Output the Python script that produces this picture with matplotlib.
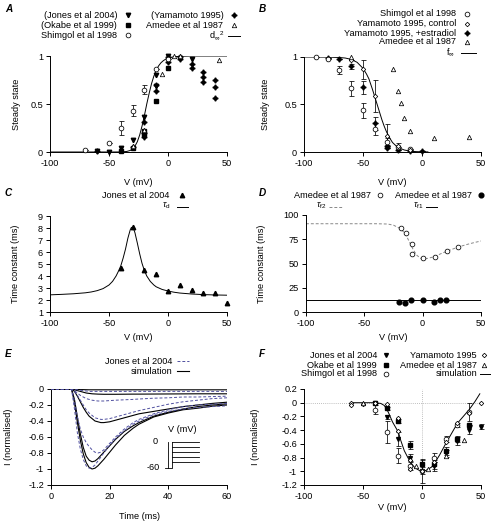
import numpy as np
import matplotlib
matplotlib.use('Agg')
import matplotlib.pyplot as plt
from matplotlib.lines import Line2D

plt.rcParams['font.family'] = ['Liberation Sans', 'DejaVu Sans']
plt.rcParams['axes.unicode_minus'] = False
plt.rcParams['mathtext.fontset'] = 'custom'
plt.rcParams['mathtext.rm'] = 'Liberation Sans'
plt.rcParams['mathtext.it'] = 'Liberation Sans:italic'
plt.rcParams['mathtext.bf'] = 'Liberation Sans:bold'

FS = 6.6

# ---------------- Panel A data (activation) ----------------
A_jones_v = [-60, -50, -40, -30, -20, -10, -10, 0, 10, 20]
A_jones_y = [0.01, 0.0, 0.04, 0.13, 0.36, 0.80, 0.69, 1.0, 0.98, 0.97]
A_okabe_v = [-40, -30, -20, -20, -10, 0]
A_okabe_y = [0.01, 0.04, 0.19, 0.22, 0.53, 0.88]
A_shim_v = [-70, -50, -40, -30, -20, -10, 0]
A_shim_y = [0.02, 0.09, 0.25, 0.43, 0.65, 0.86, 0.97]
A_shim_e = [0, 0, 0.07, 0.06, 0.05, 0, 0]
A_yama_v = [-60, -30, -20, -20, -20, -10, -10, 0, 0, 10, 10, 20, 20, 30, 30, 30, 40, 40, 40]
A_yama_y = [0.01, 0.05, 0.31, 0.20, 0.16, 0.70, 0.64, 0.99, 0.94, 0.97, 0.99,
            0.92, 0.88, 0.83, 0.78, 0.73, 0.75, 0.68, 0.56]
A_amed_v = [-30, -20, -5, 5, 10, 43]
A_amed_y = [0.06, 0.23, 0.81, 1.0, 1.0, 0.96]
A_curve_v = [-100, -50, -45, -40, -35, -32, -30, -28, -26, -24, -22, -20, -18, -16,
             -14, -12, -10, -8, -6, -4, -2, 0, 5, 10, 20, 50]
A_curve_y = [0, 0, 0.0001, 0.0008, 0.0055, 0.016, 0.032, 0.061, 0.107, 0.177, 0.27,
             0.38, 0.50, 0.61, 0.71, 0.79, 0.85, 0.897, 0.929, 0.951, 0.967, 0.978,
             0.992, 0.997, 1.0, 1.0]

# ---------------- Panel B data (inactivation) ----------------
B_shim_v = [-90, -80, -70, -60, -50, -40, -30, -20, -10]
B_shim_y = [1.0, 0.98, 0.86, 0.67, 0.44, 0.24, 0.11, 0.05, 0.03]
B_shim_e = [0, 0, 0.04, 0.08, 0.08, 0.06, 0.04, 0, 0]
B_ctrl_v = [-60, -50, -40, -30, -20, -10]
B_ctrl_y = [0.97, 0.87, 0.59, 0.17, 0.06, 0.02]
B_ctrl_e = [0, 0.10, 0.17, 0.12, 0.03, 0]
B_estr_v = [-80, -70, -60, -50, -40, -30, -30, -20, -10, 0]
B_estr_y = [0.99, 0.98, 0.90, 0.68, 0.30, 0.06, 0.04, 0.02, 0.01, 0.01]
B_estr_e = [0, 0, 0.03, 0.07, 0.07, 0, 0, 0, 0, 0]
B_amed_v = [-60, -25, -20, -18, -15, -10, 10, 40]
B_amed_y = [1.0, 0.87, 0.64, 0.52, 0.36, 0.22, 0.15, 0.16]
B_curve_v = [-100, -80, -70, -65, -60, -55, -50, -47, -45, -42, -40, -38, -36, -34,
             -32, -30, -27, -25, -22, -20, -15, -10, -5, 0, 5]
B_curve_y = [1.0, 0.999, 0.995, 0.989, 0.975, 0.944, 0.881, 0.82, 0.77, 0.66, 0.58,
             0.50, 0.42, 0.34, 0.27, 0.21, 0.14, 0.10, 0.065, 0.047, 0.021, 0.009,
             0.004, 0.002, 0.001]

# ---------------- Panel C data (tau_d) ----------------
C_v = [-40, -30, -20, -10, 0, 10, 20, 30, 40, 50]
C_tau = [4.7, 8.1, 4.5, 4.15, 2.72, 3.28, 2.83, 2.58, 2.62, 1.77]
C_curve_v = [-100, -90, -80, -70, -65, -60, -55, -50, -47, -44, -42, -40, -38, -36,
             -34, -32, -31, -30, -29, -28, -26, -24, -22, -20, -18, -15, -12, -10,
             -5, 0, 5, 10, 20, 30, 40, 50]
C_curve_t = [2.43, 2.47, 2.52, 2.6, 2.67, 2.78, 2.95, 3.25, 3.55, 4.0, 4.4, 4.85,
             5.5, 6.25, 7.15, 7.85, 8.05, 8.05, 7.9, 7.6, 6.75, 5.85, 5.05, 4.45,
             4.0, 3.55, 3.25, 3.1, 2.88, 2.75, 2.65, 2.58, 2.5, 2.45, 2.42, 2.4]

# ---------------- Panel D data (tau_f1, tau_f2) ----------------
D_f2_v = [-19, -14.5, -9.5, -9.5, 0.5, 10.5, 20.5, 30.5]
D_f2_t = [86.5, 81, 70, 60, 55.3, 56.8, 62.5, 67]
D_f1_v = [-20, -15, -10, 0, 10, 15, 20]
D_f1_t = [10.5, 9, 12.5, 12, 10, 12.5, 12.5]
D_f2c_v = [-100, -40, -30, -25, -20, -17, -14, -11, -8, -5, -2, 0, 3, 6, 10, 15,
           20, 25, 30, 35, 40, 45, 50]
D_f2c_t = [91, 91, 90.7, 89.5, 86.5, 83.5, 78.5, 71.5, 64, 58.5, 55.5, 54.8, 55,
           55.8, 57, 59.8, 62.3, 64.6, 66.7, 68.6, 70.3, 71.8, 73.2]
D_f1c_v = [-100, 50]
D_f1c_t = [12.5, 12.5]

# ---------------- Panel E data (current traces) ----------------
E_t = [0, 7, 8, 9, 10, 11, 12, 13, 14, 15, 16, 17, 18, 20, 22, 25, 28, 30, 35, 40,
       45, 50, 55, 60]
E_sim_0 = [0, 0, -0.17, -0.42, -0.64, -0.81, -0.92, -0.98, -1.0, -0.99, -0.96, -0.92,
           -0.88, -0.79, -0.70, -0.58, -0.49, -0.44, -0.35, -0.30, -0.26, -0.24, -0.215, -0.20]
E_sim_m10 = [0, 0, -0.13, -0.35, -0.56, -0.73, -0.84, -0.89, -0.91, -0.90, -0.87, -0.83,
             -0.79, -0.71, -0.63, -0.53, -0.46, -0.42, -0.34, -0.29, -0.25, -0.22, -0.20, -0.185]
E_sim_m20 = [0, 0, -0.03, -0.09, -0.16, -0.23, -0.29, -0.34, -0.37, -0.40, -0.41, -0.42,
             -0.42, -0.41, -0.39, -0.36, -0.33, -0.31, -0.28, -0.25, -0.22, -0.20, -0.18, -0.165]
E_sim_m30 = [0, 0, -0.01, -0.02, -0.03, -0.04, -0.05, -0.055, -0.06, -0.062, -0.064,
             -0.065, -0.066, -0.066, -0.066, -0.065, -0.064, -0.064, -0.063, -0.062,
             -0.061, -0.06, -0.06, -0.06]
E_sim_m40 = [0, 0, -0.002, -0.005, -0.007, -0.008, -0.009, -0.01, -0.01, -0.01, -0.01,
             -0.01, -0.01, -0.01, -0.01, -0.01, -0.01, -0.01, -0.01, -0.01, -0.01,
             -0.01, -0.01, -0.01]
E_jon_0 = [0, 0, -0.25, -0.55, -0.75, -0.88, -0.96, -0.99, -0.98, -0.95, -0.90, -0.85,
           -0.80, -0.70, -0.62, -0.52, -0.44, -0.40, -0.32, -0.28, -0.25, -0.23, -0.22, -0.21]
E_jon_m10 = [0, 0, -0.15, -0.35, -0.50, -0.60, -0.67, -0.72, -0.76, -0.79, -0.80, -0.79,
             -0.76, -0.68, -0.60, -0.50, -0.42, -0.38, -0.31, -0.26, -0.22, -0.20, -0.19, -0.18]
E_jon_m20 = [0, 0, -0.03, -0.08, -0.14, -0.20, -0.26, -0.30, -0.33, -0.36, -0.37, -0.38,
             -0.38, -0.37, -0.35, -0.32, -0.29, -0.27, -0.23, -0.19, -0.16, -0.14, -0.12, -0.11]
E_jon_m30 = [0, 0, -0.02, -0.05, -0.08, -0.10, -0.12, -0.13, -0.14, -0.145, -0.15, -0.15,
             -0.15, -0.145, -0.14, -0.135, -0.13, -0.125, -0.115, -0.11, -0.10, -0.10,
             -0.095, -0.09]
E_jon_m40 = [0, 0, -0.005, -0.01, -0.015, -0.02, -0.025, -0.03, -0.03, -0.03, -0.03,
             -0.03, -0.03, -0.03, -0.03, -0.03, -0.03, -0.03, -0.03, -0.03, -0.03,
             -0.03, -0.03, -0.03]
E_protocol_levels = [0, -12, -24, -36, -48]

# ---------------- Panel F data (I-V) ----------------
F_jones_v = [-40, -30, -20, -10, 0, 10, 20, 30, 40, 50]
F_jones_y = [0.0, -0.21, -0.53, -0.80, -1.0, -0.93, -0.74, -0.56, -0.40, -0.35]
F_jones_e = [0, 0.03, 0.10, 0.05, 0.17, 0.06, 0.05, 0.06, 0.06, 0.04]
F_okabe_v = [-40, -30, -20, -10, 0, 10, 20, 30, 40]
F_okabe_y = [0.0, -0.08, -0.27, -0.62, -0.90, -0.90, -0.70, -0.53, -0.33]
F_okabe_e = [0, 0.02, 0.03, 0.06, 0.08, 0.06, 0.06, 0.04, 0]
F_shim_v = [-40, -30, -20, -10, 0, 10, 20, 30, 40]
F_shim_y = [-0.10, -0.43, -0.77, -0.92, -0.99, -0.80, -0.53, -0.33, -0.13]
F_shim_e = [0.06, 0.16, 0.11, 0.06, 0.05, 0.06, 0.05, 0.03, 0.13]
F_yama_v = [-60, -60, -50, -40, -30, -20, -20, -10, -10, 0, 10, 20, 30, 40, 50]
F_yama_y = [0.0, -0.04, -0.02, 0.0, -0.02, -0.23, -0.41, -0.84, -0.96, -0.99, -0.86,
            -0.57, -0.29, -0.15, 0.0]
F_amed_v = [-50, -5, 5, 20, 36]
F_amed_y = [0.0, -0.92, -0.97, -0.77, -0.54]
F_sim_v = [-60, -40, -35, -32, -30, -28, -25, -22, -20, -18, -15, -12, -10, -7, -5,
           -2, 0, 3, 5, 8, 10, 15, 20, 25, 30, 35, 40, 45, 49]
F_sim_y = [0, 0, -0.01, -0.04, -0.09, -0.16, -0.28, -0.37, -0.43, -0.55, -0.70, -0.80,
           -0.86, -0.93, -0.96, -0.99, -1.0, -0.99, -0.97, -0.94, -0.90, -0.76, -0.60,
           -0.45, -0.30, -0.20, -0.10, 0.02, 0.13]

# ---------------- figure ----------------
W, H = 498, 521
fig = plt.figure(figsize=(W / 100, H / 100), dpi=100)

def fx(x):
    return x / W

def fy(y):
    return 1 - y / H

def make_ax(l, t, r, b):
    ax = fig.add_axes([fx(l), fy(b), (r - l) / W, (b - t) / H])
    for s in ['top', 'right']:
        ax.spines[s].set_visible(False)
    for s in ['left', 'bottom']:
        ax.spines[s].set_linewidth(0.7)
    ax.tick_params(direction='out', length=3, width=0.7, labelsize=FS, pad=2)
    return ax

K = dict(color='k', linestyle='none', clip_on=False, zorder=4)
st_open = dict(mfc='white', mec='k', mew=0.55)
STAR = (4, 1, 0)
MS_O, MS_T, MS_S, MS_ST, MS_D = 3.4, 3.2, 2.7, 3.8, 2.3

def ltext(x, y, s):
    fig.text(fx(x), fy(y), s, ha='right', va='center', fontsize=FS)

def lmark(x, y, **kw):
    fig.add_artist(Line2D([fx(x)], [fy(y)], transform=fig.transFigure, **kw))

def lline(x0, x1, y, **kw):
    fig.add_artist(Line2D([fx(x0), fx(x1)], [fy(y), fy(y)], transform=fig.transFigure, **kw))

def plabel(x, y, s):
    fig.text(fx(x), fy(y), s, ha='left', va='center', fontsize=7.2,
             fontweight='bold', fontstyle='italic')

def ebar(ax, v, y, e):
    ax.errorbar(v, y, yerr=e, fmt='none', ecolor='k', elinewidth=0.55,
                capsize=1.8, capthick=0.55, clip_on=False, zorder=3)

# ---- A ----
axA = make_ax(50, 56, 227, 152)
axA.plot(A_curve_v, A_curve_y, color='k', lw=0.7, zorder=2)
ebar(axA, A_shim_v, A_shim_y, A_shim_e)
axA.plot(A_jones_v, A_jones_y, marker='v', ms=MS_T, **K)
axA.plot(A_okabe_v, A_okabe_y, marker='s', ms=MS_S, **K)
axA.plot(A_yama_v, A_yama_y, marker=STAR, ms=MS_ST, **K)
axA.plot(A_shim_v, A_shim_y, marker='o', ms=MS_O, **st_open, **K)
axA.plot(A_amed_v, A_amed_y, marker='^', ms=MS_T, **st_open, **K)
axA.set_xlim(-100, 50)
axA.set_ylim(0, 1)
axA.set_xticks([-100, -50, 0, 50])
axA.set_yticks([0, 0.5, 1])
axA.set_yticklabels(['0', '0.5', '1'])
axA.set_xlabel('V (mV)', fontsize=FS)
axA.set_ylabel('Steady state', fontsize=FS)
axA.xaxis.set_label_coords(0.5, -0.27)
axA.yaxis.set_label_coords(-0.165, 0.5)
plabel(5, 9, 'A')
ltext(117, 15, '(Jones et al 2004)'); lmark(128, 15, marker='v', ms=MS_T, color='k')
ltext(117, 25, '(Okabe et al 1999)'); lmark(128, 25, marker='s', ms=MS_S, color='k')
ltext(117, 35, 'Shimgol et al 1998'); lmark(128, 35, marker='o', ms=MS_O, **st_open)
ltext(223.5, 15, '(Yamamoto 1995)'); lmark(234, 15, marker=STAR, ms=MS_ST, color='k')
ltext(223.5, 25, 'Amedee et al 1987'); lmark(234, 25, marker='^', ms=MS_T, **st_open)
ltext(224, 36, r'd$_\infty$$^2$'); lline(228, 240, 36, color='k', lw=0.7)

# ---- B ----
axB = make_ax(304, 57, 481, 152)
axB.plot(B_curve_v, B_curve_y, color='k', lw=0.7, zorder=2)
ebar(axB, B_shim_v, B_shim_y, B_shim_e)
ebar(axB, B_ctrl_v, B_ctrl_y, B_ctrl_e)
ebar(axB, B_estr_v, B_estr_y, B_estr_e)
axB.plot(B_estr_v, B_estr_y, marker=STAR, ms=MS_ST, **K)
axB.plot(B_shim_v, B_shim_y, marker='o', ms=MS_O, **st_open, **K)
axB.plot(B_ctrl_v, B_ctrl_y, marker='D', ms=MS_D, **st_open, **K)
axB.plot(B_amed_v, B_amed_y, marker='^', ms=MS_T, **st_open, **K)
axB.set_xlim(-100, 50)
axB.set_ylim(0, 1)
axB.set_xticks([-100, -50, 0, 50])
axB.set_yticks([0, 0.5, 1])
axB.set_yticklabels(['0', '0.5', '1'])
axB.set_xlabel('V (mV)', fontsize=FS)
axB.set_ylabel('Steady state', fontsize=FS)
axB.xaxis.set_label_coords(0.5, -0.27)
axB.yaxis.set_label_coords(-0.19, 0.5)
plabel(259, 9, 'B')
ltext(456, 14, 'Shimgol et al 1998'); lmark(467, 14, marker='o', ms=MS_O, **st_open)
ltext(456, 23.5, 'Yamamoto 1995, control'); lmark(467, 23.5, marker='D', ms=MS_D, **st_open)
ltext(456, 33, 'Yamamoto 1995, +estradiol'); lmark(467, 33, marker=STAR, ms=MS_ST, color='k')
ltext(456, 42, 'Amedee et al 1987'); lmark(467, 42, marker='^', ms=MS_T, **st_open)
ltext(455, 52.5, r'f$_\infty$'); lline(461, 476, 53, color='k', lw=0.7)

# ---- C ----
axC = make_ax(50, 216, 227, 312)
axC.plot(C_curve_v, C_curve_t, color='k', lw=0.7, zorder=2)
axC.plot(C_v, C_tau, marker='^', ms=MS_T, **K)
axC.set_xlim(-100, 50)
axC.set_ylim(1, 9)
axC.set_xticks([-100, -50, 0, 50])
axC.set_yticks(range(1, 10))
axC.set_xlabel('V (mV)', fontsize=FS)
axC.set_ylabel('Time constant (ms)', fontsize=FS)
axC.xaxis.set_label_coords(0.5, -0.22)
axC.yaxis.set_label_coords(-0.17, 0.5)
plabel(5, 193, 'C')
ltext(169, 195, 'Jones et al 2004'); lmark(182, 195, marker='^', ms=MS_T, color='k')
ltext(171, 206, r'$\tau_\mathregular{d}$'); lline(177, 188, 206.7, color='k', lw=0.7)

# ---- D ----
axD = make_ax(306, 215, 481, 312)
axD.plot(D_f2c_v, D_f2c_t, color='#888888', lw=0.7, ls=(0, (3, 2)), zorder=2)
axD.plot(D_f1c_v, D_f1c_t, color='k', lw=0.7, zorder=2)
axD.plot(D_f2_v, D_f2_t, marker='o', ms=MS_O, **st_open, **K)
axD.plot(D_f1_v, D_f1_t, marker='o', ms=MS_O, **K)
axD.set_xlim(-100, 50)
axD.set_ylim(0, 100)
axD.set_xticks([-100, -50, 0, 50])
axD.set_yticks([0, 25, 50, 75, 100])
axD.set_xlabel('V (mV)', fontsize=FS)
axD.set_ylabel('Time constant (ms)', fontsize=FS)
axD.xaxis.set_label_coords(0.5, -0.22)
axD.yaxis.set_label_coords(-0.23, 0.5)
plabel(259, 193, 'D')
ltext(371, 195, 'Amedee et al 1987'); lmark(380, 195, marker='o', ms=MS_O, **st_open)
ltext(472, 195, 'Amedee et al 1987'); lmark(481, 195, marker='o', ms=MS_O, color='k')
ltext(326, 206, r'$\tau_\mathregular{f2}$')
lline(329, 343, 206.7, color='#888888', lw=0.7, ls=(0, (3, 2)))
ltext(423, 206, r'$\tau_\mathregular{f1}$'); lline(426, 437, 206.7, color='k', lw=0.7)

# ---- E ----
axE = make_ax(51, 389, 227, 485)
JC = '#5050a0'
for tr in [E_jon_0, E_jon_m10, E_jon_m20, E_jon_m30, E_jon_m40]:
    axE.plot(E_t, tr, color=JC, lw=0.7, ls=(0, (3, 2)), zorder=3)
for tr in [E_sim_0, E_sim_m10, E_sim_m20, E_sim_m30, E_sim_m40]:
    axE.plot(E_t, tr, color='k', lw=0.8, zorder=2)
axE.set_xlim(0, 60)
axE.set_ylim(-1.2, 0)
axE.set_xticks([0, 20, 40, 60])
axE.set_yticks([0, -0.2, -0.4, -0.6, -0.8, -1.0, -1.2])
axE.set_yticklabels(['0', '-0.2', '-0.4', '-0.6', '-0.8', '-1', '-1.2'])
axE.set_xlabel('Time (ms)', fontsize=FS)
axE.set_ylabel('I (normalised)', fontsize=FS)
axE.xaxis.set_label_coords(0.5, -0.28)
axE.yaxis.set_label_coords(-0.215, 0.5)

# voltage protocol inset (drawn in axis data units of panel E)
def e_t(px):
    return (px - 51) / 2.933

def e_y(py):
    return -(py - 389) / 80.0

y_top, y_bot = 442, 468
for lev in E_protocol_levels:
    yy = y_top + (-lev) / 12.0 * 5.0
    axE.plot([e_t(172), e_t(199)], [e_y(yy), e_y(yy)], color='k', lw=0.6, clip_on=False)
axE.plot([e_t(165), e_t(172), e_t(172)], [e_y(y_bot), e_y(y_bot), e_y(y_top)],
         color='k', lw=0.6, clip_on=False)
axE.plot([e_t(168), e_t(168)], [e_y(y_bot), e_y(y_top)], color='k', lw=0.6, clip_on=False)
axE.text(e_t(182), e_y(430), 'V (mV)', ha='center', va='center', fontsize=FS)
axE.text(e_t(158), e_y(442), '0', ha='right', va='center', fontsize=FS)
axE.text(e_t(160), e_y(468), '-60', ha='right', va='center', fontsize=FS)
plabel(5, 354, 'E')
ltext(172, 361, 'Jones et al 2004'); lline(177, 189, 361, color=JC, lw=0.7, ls=(0, (3, 2)))
ltext(172, 371, 'simulation'); lline(177, 189, 371, color='k', lw=0.8)

# ---- F ----
axF = make_ax(304, 389, 481, 485)
axF.axhline(0, color='#aaaaaa', lw=0.6, ls=(0, (1, 1.5)), zorder=1)
axF.axvline(0, color='#aaaaaa', lw=0.6, ls=(0, (1, 1.5)), zorder=1)
axF.plot(F_sim_v, F_sim_y, color='k', lw=0.7, zorder=2)
ebar(axF, F_jones_v, F_jones_y, F_jones_e)
ebar(axF, F_okabe_v, F_okabe_y, F_okabe_e)
ebar(axF, F_shim_v, F_shim_y, F_shim_e)
axF.plot(F_jones_v, F_jones_y, marker='v', ms=2.8, **K)
axF.plot(F_okabe_v, F_okabe_y, marker='s', ms=MS_S, **K)
axF.plot(F_shim_v, F_shim_y, marker='o', ms=MS_O, **st_open, **K)
axF.plot(F_yama_v, F_yama_y, marker='D', ms=MS_D, **st_open, **K)
axF.plot(F_amed_v, F_amed_y, marker='^', ms=MS_T, **st_open, **K)
axF.set_xlim(-100, 50)
axF.set_ylim(-1.2, 0.2)
axF.set_xticks([-100, -50, 0, 50])
axF.set_yticks([0.2, 0, -0.2, -0.4, -0.6, -0.8, -1.0, -1.2])
axF.set_yticklabels(['0.2', '0', '-0.2', '-0.4', '-0.6', '-0.8', '-1', '-1.2'])
axF.set_xlabel('V (mV)', fontsize=FS)
axF.set_ylabel('I (normalised)', fontsize=FS)
axF.xaxis.set_label_coords(0.5, -0.19)
axF.yaxis.set_label_coords(-0.25, 0.5)
plabel(259, 354, 'F')
ltext(377, 355, 'Jones et al 2004'); lmark(386, 355, marker='v', ms=2.8, color='k')
ltext(377, 365, 'Okabe et al 1999'); lmark(386, 365, marker='s', ms=MS_S, color='k')
ltext(377, 374, 'Shimgol et al 1998'); lmark(386, 374, marker='o', ms=MS_O, **st_open)
ltext(477, 355, 'Yamamoto 1995'); lmark(484, 355, marker='D', ms=MS_D, **st_open)
ltext(477, 365, 'Amedee et al 1987'); lmark(484, 365, marker='^', ms=MS_T, **st_open)
ltext(477, 374, 'simulation'); lline(480, 490, 374, color='k', lw=0.7)

fig.savefig('out.png', dpi=100)
